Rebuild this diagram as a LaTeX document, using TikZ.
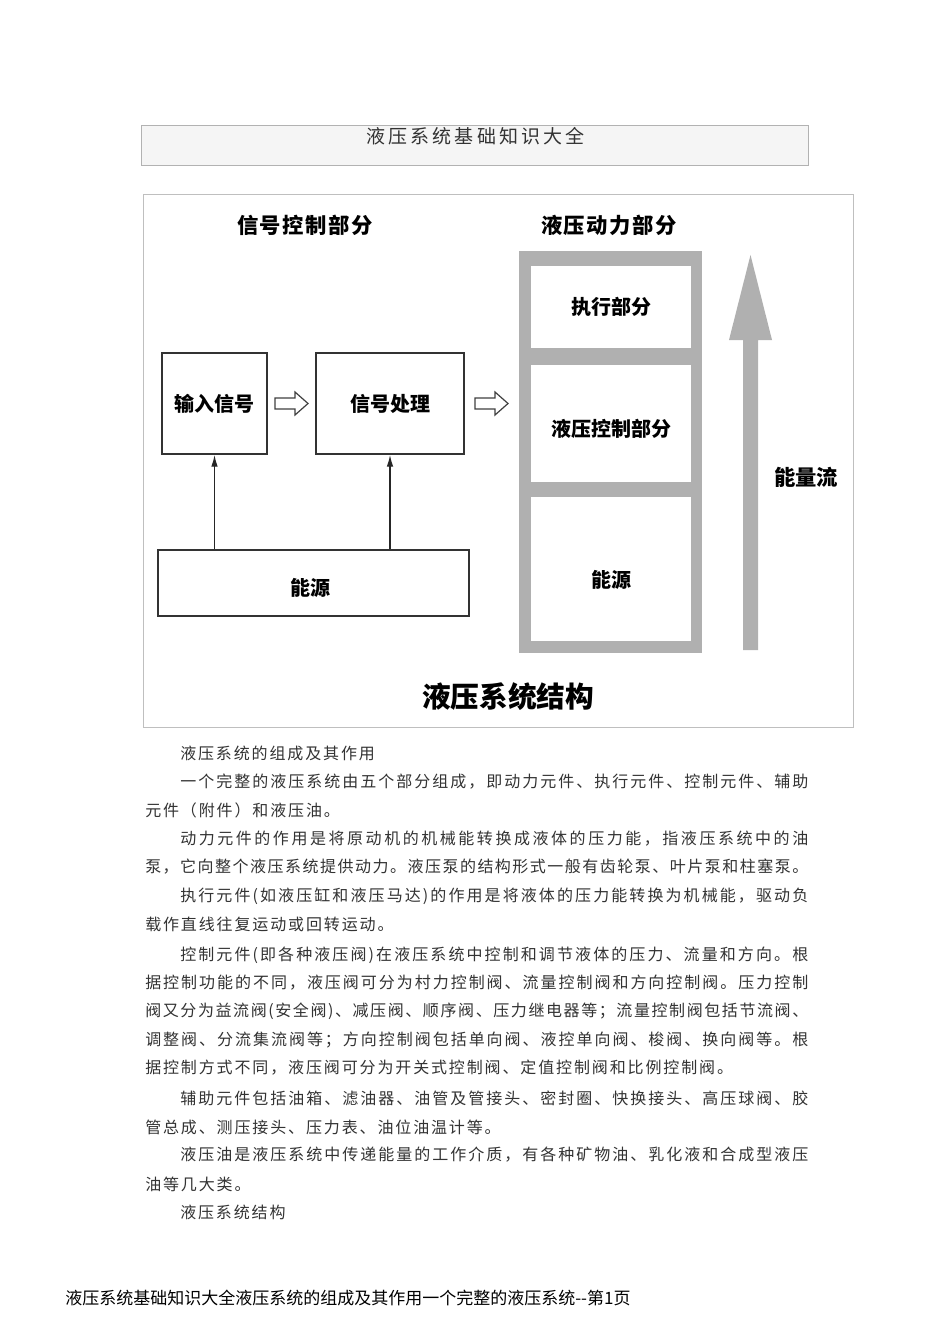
\documentclass[tikz,border=0pt]{standalone}
\usepackage{fontspec}
\setmainfont{Noto Sans CJK SC}
\newfontfamily\cjk{Noto Sans CJK SC}
\usetikzlibrary{arrows.meta,calc}
\def\gapglue{\hskip 1.4pt}
\def\spr#1{\ifx\relax#1\else#1\gapglue\expandafter\spr\fi}
\newcommand\nline[2][1.4pt]{\hbox{\def\gapglue{\hskip #1}\spr#2\relax\unskip}}
\newcommand\jline[2]{\hbox to #1{\def\gapglue{\hskip 0pt plus 1fil}\spr#2\relax\unskip}}
\definecolor{colgray}{gray}{0.69}
\tikzset{
  bodytxt/.style={anchor=west, inner sep=0pt, font=\cjk\fontsize{12pt}{14pt}\selectfont, text=black!80},
  boxlbl/.style={inner sep=0pt, font=\cjk\bfseries\fontsize{15pt}{17pt}\selectfont},
  headlbl/.style={inner sep=0pt, font=\cjk\bfseries\fontsize{16pt}{18pt}\selectfont},
  plainbox/.style={draw=black!80, line width=1.1pt, fill=white},
  whitebox/.style={fill=white, draw=none},
  uparr/.style={draw=black!85, line width=1.1pt, -{Latex[length=9pt,width=5pt]}},
  hollowarrow/.pic={\draw[black!75, line width=0.9pt, fill=white, line join=miter]
     (-16.5,-5.5) -- (3.5,-5.5) -- (3.5,-11.5) -- (16.5,0) -- (3.5,11.5) -- (3.5,5.5) -- (-16.5,5.5) -- cycle;}
}
\begin{document}
\begin{tikzpicture}[x=0.75pt,y=-0.75pt]
\useasboundingbox (0,0) rectangle (950,1344);
\fill[white] (0,0) rectangle (950,1344);

% title box
\node[draw=black!30, fill=black!4, line width=0.8pt, minimum width=667*0.75pt, minimum height=40*0.75pt, inner sep=0pt, anchor=north west] (titlebox) at (141,125) {};
\node[inner sep=0pt, font=\cjk\fontsize{14.25pt}{16pt}\selectfont, text=black!80] (title) at (475.5,136.5) {\nline[2.4pt]{液压系统基础知识大全}};

% figure frame
\node[draw=black!25, line width=0.8pt, minimum width=710*0.75pt, minimum height=533*0.75pt, inner sep=0pt, anchor=north west] (frame) at (143,194) {};

% headers
\node[headlbl] (hdrL) at (305,225) {\nline[1.2pt]{信号控制部分}};
\node[headlbl] (hdrR) at (609,225) {\nline[1.2pt]{液压动力部分}};

% left boxes
\node[plainbox, minimum width=105*0.75pt, minimum height=101*0.75pt, inner sep=0pt] (in) at (214.5,403.5) {};
\node[boxlbl] (inlbl) at (in.center) {输入信号};
\node[plainbox, minimum width=148*0.75pt, minimum height=101*0.75pt, inner sep=0pt] (proc) at (390,403.5) {};
\node[boxlbl] (proclbl) at (proc.center) {信号处理};
\node[plainbox, minimum width=311*0.75pt, minimum height=66*0.75pt, inner sep=0pt] (srcL) at (313.5,583) {};
\node[boxlbl] (srcLlbl) at ([xshift=-2pt,yshift=-4pt]srcL.center) {能源};

\draw[uparr] (srcL.north -| in.south) -- (in.south);
\draw[uparr] (srcL.north -| proc.south) -- (proc.south);

% right column
\node[fill=colgray, minimum width=183*0.75pt, minimum height=402*0.75pt, inner sep=0pt, anchor=north west] (col) at (519,251) {};
\node[whitebox, minimum width=160*0.75pt, minimum height=82*0.75pt, inner sep=0pt, anchor=north west] (exec) at (531,266) {};
\node[boxlbl] (execlbl) at (exec.center) {执行部分};
\node[whitebox, minimum width=160*0.75pt, minimum height=117*0.75pt, inner sep=0pt, anchor=north west] (hctrl) at (531,365) {};
\node[boxlbl] (hctrllbl) at ([yshift=-4pt]hctrl.center) {液压控制部分};
\node[whitebox, minimum width=160*0.75pt, minimum height=144*0.75pt, inner sep=0pt, anchor=north west] (psrc) at (531,497) {};
\node[boxlbl] (psrclbl) at ([yshift=-8pt]psrc.center) {能源};

% hollow arrows
\pic (h1) at ($(in.east)!0.5!(proc.west)$) {hollowarrow};
\pic (h2) at (491.5,403.5) {hollowarrow};

% energy flow arrow
\fill[colgray] (743,650) -- (743,340) -- (729,340) -- (750.5,255) -- (772,340) -- (758,340) -- (758,650) -- cycle;
\node[boxlbl, font=\cjk\bfseries\fontsize{16pt}{18pt}\selectfont] (flow) at (806,477) {能量流};

\node[inner sep=0pt, font=\cjk\bfseries\fontsize{21.5pt}{24pt}\selectfont] (figtitle) at (508,697) {液压系统结构};

% body text
\node[bodytxt] (l1) at (180,753) {\nline{液压系统的组成及其作用}};
\node[bodytxt] (l2) at (180,782) {\jline{471pt}{一个完整的液压系统由五个部分组成，即动力元件、执行元件、控制元件、辅助}};
\node[bodytxt] (l3) at (145,810) {\nline{元件（附件）和液压油。}};
\node[bodytxt] (l4) at (180,839) {\jline{471pt}{动力元件的作用是将原动机的机械能转换成液体的压力能，指液压系统中的油}};
\node[bodytxt] (l5) at (145,867) {\jline{497.25pt}{泵，它向整个液压系统提供动力。液压泵的结构形式一般有齿轮泵、叶片泵和柱塞泵。}};
\node[bodytxt] (l6) at (180,896) {\jline{471pt}{执行元件(如液压缸和液压马达)的作用是将液体的压力能转换为机械能，驱动负}};
\node[bodytxt] (l7) at (145,924) {\nline{载作直线往复运动或回转运动。}};
\node[bodytxt] (l8) at (180,955) {\jline{471pt}{控制元件(即各种液压阀)在液压系统中控制和调节液体的压力、流量和方向。根}};
\node[bodytxt] (l9) at (145,983) {\jline{497.25pt}{据控制功能的不同，液压阀可分为村力控制阀、流量控制阀和方向控制阀。压力控制}};
\node[bodytxt] (l10) at (145,1011) {\jline{497.25pt}{阀又分为益流阀(安全阀)、减压阀、顺序阀、压力继电器等；流量控制阀包括节流阀、}};
\node[bodytxt] (l11) at (145,1040) {\jline{497.25pt}{调整阀、分流集流阀等；方向控制阀包括单向阀、液控单向阀、梭阀、换向阀等。根}};
\node[bodytxt] (l12) at (145,1068) {\nline{据控制方式不同，液压阀可分为开关式控制阀、定值控制阀和比例控制阀。}};
\node[bodytxt] (l13) at (180,1098) {\jline{471pt}{辅助元件包括油箱、滤油器、油管及管接头、密封圈、快换接头、高压球阀、胶}};
\node[bodytxt] (l14) at (145,1127) {\nline{管总成、测压接头、压力表、油位油温计等。}};
\node[bodytxt] (l15) at (180,1155) {\jline{471pt}{液压油是液压系统中传递能量的工作介质，有各种矿物油、乳化液和合成型液压}};
\node[bodytxt] (l16) at (145,1184) {\nline{油等几大类。}};
\node[bodytxt] (l17) at (180,1212) {\nline{液压系统结构}};

% footer
\node[anchor=west, inner sep=0pt, font=\cjk\fontsize{12.75pt}{14pt}\selectfont] (footer) at (65,1298) {液压系统基础知识大全液压系统的组成及其作用一个完整的液压系统--第1页};
\end{tikzpicture}
\end{document}
